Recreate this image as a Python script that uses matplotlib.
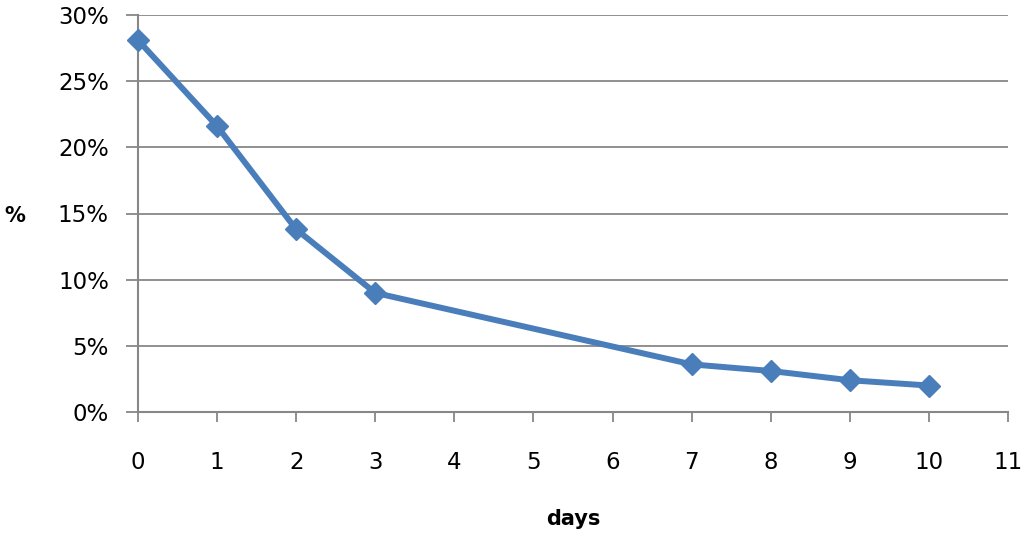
import matplotlib.pyplot as plt
from matplotlib.ticker import FuncFormatter

days = [0, 1, 2, 3, 7, 8, 9, 10]
share = [28.1, 21.6, 13.8, 9.0, 3.6, 3.1, 2.4, 2.0]
y_ticks = [0, 5, 10, 15, 20, 25, 30]
x_ticks = list(range(0, 12))

plt.rcParams['font.family'] = ['DejaVu Sans']

fig = plt.figure(figsize=(10.24, 5.38), dpi=100)
ax = fig.add_axes([138 / 1024, 126 / 538, 870 / 1024, 397 / 538])

grid_col = '#878787'
line_col = '#4A7EBB'

ax.set_xlim(0, 11)
ax.set_ylim(0, 30)
ax.set_yticks(y_ticks)
ax.set_xticks(x_ticks)
ax.yaxis.set_major_formatter(FuncFormatter(lambda v, p: f'{v:.0f}%'))
ax.grid(axis='y', color=grid_col, linewidth=1.3)
ax.set_axisbelow(True)

for s in ['top', 'right']:
    ax.spines[s].set_visible(False)
for s in ['left', 'bottom']:
    ax.spines[s].set_color(grid_col)
    ax.spines[s].set_linewidth(1.5)

ax.tick_params(axis='y', length=9, width=1.3, color=grid_col, pad=12, labelsize=16.5)
ax.tick_params(axis='x', length=7, width=1.3, color=grid_col, pad=21, labelsize=16.5)

ax.plot(days, share, color=line_col, linewidth=4.3, marker='D', markersize=11,
        clip_on=False, zorder=3)

fig.text(15 / 1024, 1 - 216 / 538, '%', fontsize=15, fontweight='bold', ha='center', va='center')
fig.text(573 / 1024, 1 - 519 / 538, 'days', fontsize=15, fontweight='bold', ha='center', va='center')

fig.savefig('out.png', dpi=100)
